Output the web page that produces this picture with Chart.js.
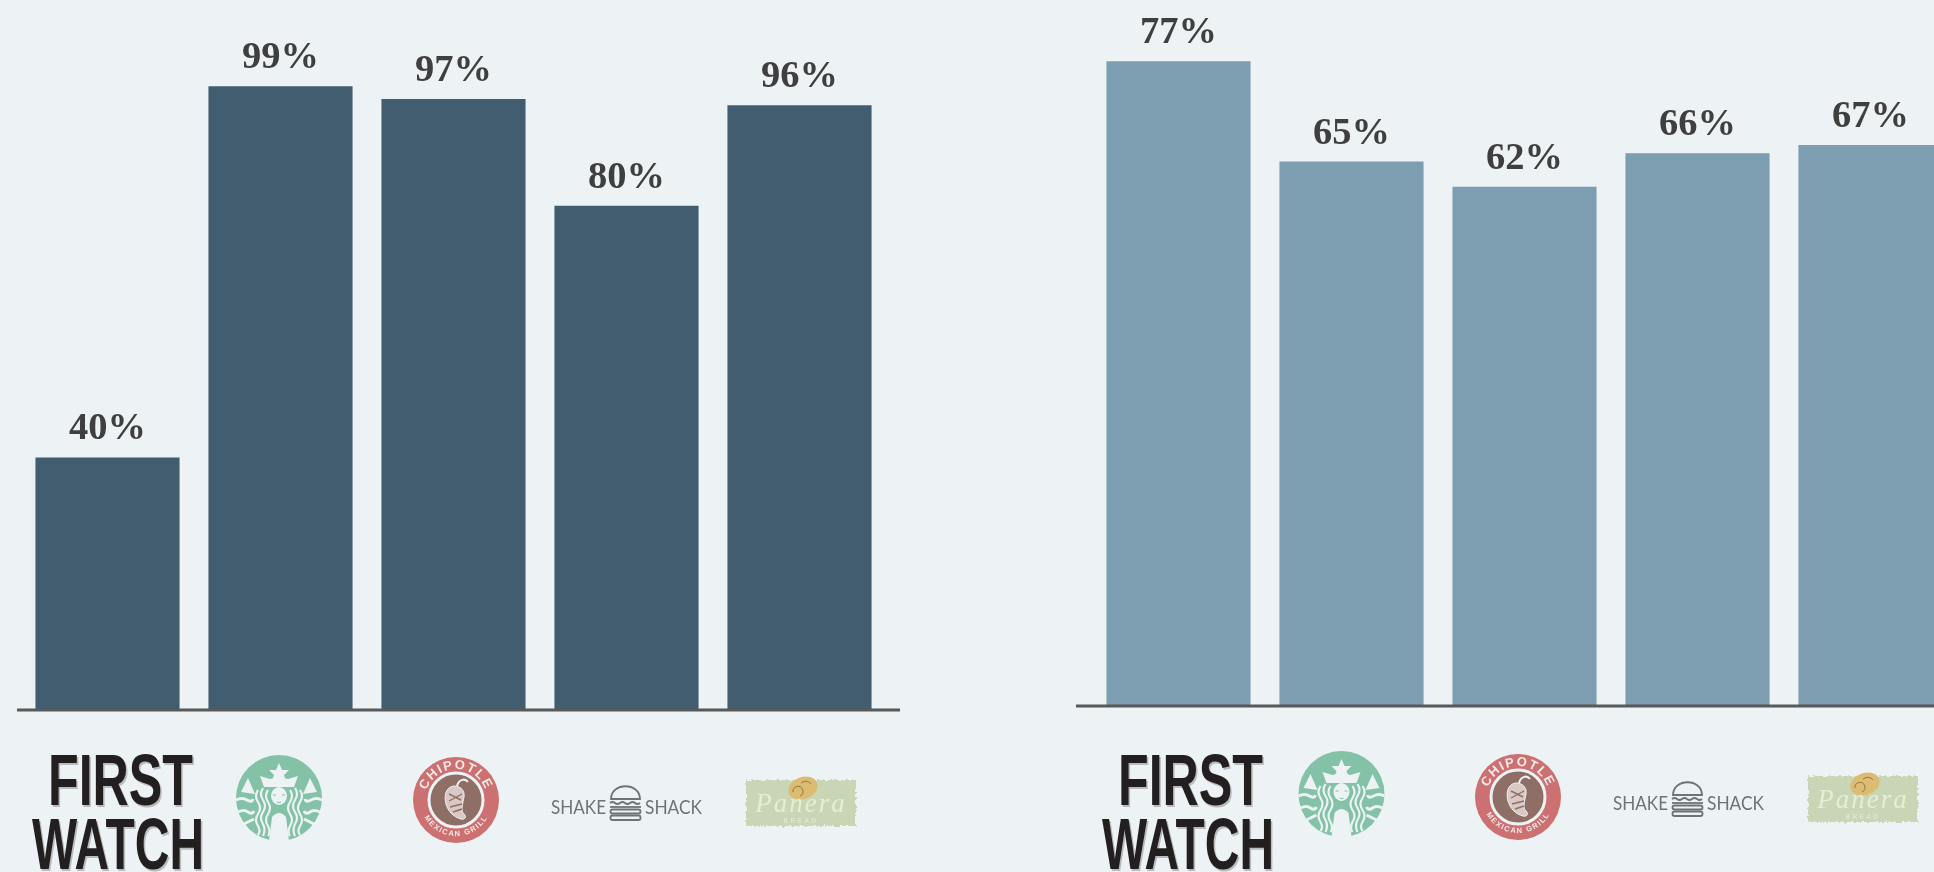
<!DOCTYPE html>
<html>
<head>
<meta charset="utf-8">
<title>Restaurant brands</title>
<script src="https://cdn.jsdelivr.net/npm/chart.js@4"></script>
<style>
    html, body { margin: 0; padding: 0; background: #edf2f5; }
    #page { position: relative; width: 1934px; height: 872px; overflow: hidden; background: #edf2f5; }
    canvas { position: absolute; top: 0; }
    #logos { position: absolute; left: 0; top: 0; filter: blur(0.7px); }
</style>
</head>
<body>
<div id="page">
    <canvas id="chartLeft" width="883" height="720" style="left:17px"></canvas>
    <canvas id="chartRight" width="881" height="720" style="left:1076px"></canvas>

    <svg id="logos" width="1934" height="872" xmlns="http://www.w3.org/2000/svg">
        <defs>
            <filter id="rough" x="-5%" y="-5%" width="110%" height="110%">
                <feTurbulence type="fractalNoise" baseFrequency="0.35" numOctaves="2" seed="4"/>
                <feDisplacementMap in="SourceGraphic" scale="5"/>
            </filter>
            <path id="chipotleTop" d="M -31 0 A 31 31 0 0 1 31 0"/>
            <path id="chipotleBottom" d="M -36 0 A 36 36 0 0 0 36 0"/>

            <g id="logoFirstWatch" font-family="'Liberation Sans Narrow','Liberation Sans',sans-serif" font-weight="700" font-size="72">
                <text x="49.5" y="806.5" textLength="145" lengthAdjust="spacingAndGlyphs" fill="#b9bcbf">FIRST</text>
                <text x="33.5" y="870.5" textLength="172" lengthAdjust="spacingAndGlyphs" fill="#b9bcbf">WATCH</text>
                <text x="48" y="805" textLength="145" lengthAdjust="spacingAndGlyphs" fill="#231f20">FIRST</text>
                <text x="32" y="869" textLength="172" lengthAdjust="spacingAndGlyphs" fill="#231f20">WATCH</text>
            </g>

            <g id="logoStarbucks" transform="translate(279 798)">
                <circle r="43" fill="#83c2a7"/>
                <!-- crown, star and side points -->
                <polygon points="0,-35 3,-28 10,-28 5,-23 7,-17 0,-20 -7,-17 -5,-23 -10,-28 -3,-28" fill="#edf2f5"/>
                <polygon points="-19,-22 -9,-19 0,-21 9,-19 19,-22 15,-11 -15,-11" fill="#edf2f5"/>
                <polygon points="-31,-20 -24,-4 -38,-6" fill="#edf2f5"/>
                <polygon points="31,-20 24,-4 38,-6" fill="#edf2f5"/>
                <!-- face and body -->
                <ellipse cx="0" cy="-2" rx="8" ry="9" fill="#edf2f5"/>
                <path d="M -6 -3 h 3 M 3 -3 h 3 M -2 4 q 2 1.5 4 0" stroke="#83c2a7" stroke-width="1" fill="none"/>
                <path d="M -10 43 L -7 19 Q 0 11 7 19 L 10 43 Z" fill="#edf2f5"/>
                <!-- hair waves -->
                <g fill="none" stroke="#edf2f5" stroke-width="2.2">
                    <path d="M -11 -8 q -4 6 0 12 q 4 6 0 12 q -4 6 0 12 q 3 6 0 10"/>
                    <path d="M -16 -10 q -4 6 0 12 q 4 6 0 12 q -4 6 0 12 q 3 6 0 12"/>
                    <path d="M -21 -8 q -4 6 0 12 q 4 6 0 12 q -4 6 0 12 q 3 5 0 9"/>
                    <path d="M 11 -8 q 4 6 0 12 q -4 6 0 12 q 4 6 0 12 q -3 6 0 10"/>
                    <path d="M 16 -10 q 4 6 0 12 q -4 6 0 12 q 4 6 0 12 q -3 6 0 12"/>
                    <path d="M 21 -8 q 4 6 0 12 q -4 6 0 12 q 4 6 0 12 q -3 5 0 9"/>
                </g>
                <g fill="none" stroke="#edf2f5" stroke-width="3">
                    <path d="M -43 2 q 6 -3 11 0 t 6 -1"/>
                    <path d="M -41 14 q 6 -3 10 0 t 6 -1"/>
                    <path d="M 43 2 q -6 -3 -11 0 t -6 -1"/>
                    <path d="M 41 14 q -6 -3 -10 0 t -6 -1"/>
                    <path d="M -35 26 l 10 -5"/>
                    <path d="M 35 26 l -10 -5"/>
                </g>
            </g>

            <g id="logoChipotle" transform="translate(456 800)">
                <circle r="43" fill="#cd7071"/>
                <circle r="27" fill="#8f6f65" stroke="#edf2f5" stroke-width="3"/>
                <text font-family="'Liberation Sans',sans-serif" font-weight="700" font-size="13" fill="#f3e9e7" letter-spacing="1.5" text-anchor="middle">
                    <textPath href="#chipotleTop" startOffset="50%">CHIPOTLE</textPath>
                </text>
                <text font-family="'Liberation Sans',sans-serif" font-weight="700" font-size="7.5" fill="#f3e9e7" letter-spacing="1.4" text-anchor="middle">
                    <textPath href="#chipotleBottom" startOffset="50%">MEXICAN GRILL</textPath>
                </text>
                <!-- pepper -->
                <path d="M -2 -14 C -11 -13 -12 -3 -10 4 C -8 11 -3 17 5 19 C 9 20 11 17 8 14 C 4 11 7 3 8 -3 C 9 -9 5 -14 -2 -14 Z" fill="#d9c8c3" stroke="#edf2f5" stroke-width="1"/>
                <path d="M 1 -14 C 3 -21 9 -22 12 -18" fill="none" stroke="#edf2f5" stroke-width="2"/>
                <path d="M -7 -6 L 5 0 M -7 1 L 6 -6 M -6 7 L 6 4 M -3 12 L 6 9" stroke="#8f6f65" stroke-width="1.4" fill="none"/>
            </g>

            <g id="logoShake">
                <text x="551" y="814" textLength="55" lengthAdjust="spacingAndGlyphs" font-family="Lato,sans-serif" font-size="19.5" fill="#6e7377">SHAKE</text>
                <text x="645" y="814" textLength="57" lengthAdjust="spacingAndGlyphs" font-family="Lato,sans-serif" font-size="19.5" fill="#6e7377">SHACK</text>
                <g fill="none" stroke="#6e7377" stroke-width="1.8">
                    <path d="M 611 799 C 611 782 640 782 640 799 Z"/>
                    <path d="M 610 803 q 2.5 -2 5 0 t 5 0 t 5 0 t 5 0 t 5 0 t 5 0"/>
                    <path d="M 610 807 L 641 807"/>
                    <rect x="610.5" y="809.5" width="30" height="4" rx="2"/>
                    <rect x="610.5" y="815.5" width="30" height="4.5" rx="2"/>
                </g>
            </g>

            <g id="logoPanera">
                <rect x="746" y="780" width="110" height="46" fill="#c9d6b6" filter="url(#rough)"/>
                <ellipse cx="803" cy="788" rx="15" ry="11" fill="#dcbc72" transform="rotate(-20 803 788)"/>
                <g fill="none" stroke="#8f7b3c" stroke-width="1">
                    <path d="M 793 792 a 5 5 0 1 1 7 4"/>
                    <path d="M 801 783 q 6 -4 10 1"/>
                </g>
                <text x="801" y="812" text-anchor="middle" font-family="'Liberation Serif',serif" font-style="italic" font-size="27" letter-spacing="2" fill="#e6edd6">Panera</text>
                <text x="801" y="823" text-anchor="middle" font-family="'Liberation Sans',sans-serif" font-size="6.5" letter-spacing="2.5" fill="#e6edd6">BREAD</text>
            </g>
        </defs>

        <!-- logo row under the left chart -->
        <use href="#logoFirstWatch"/>
        <use href="#logoStarbucks"/>
        <use href="#logoChipotle"/>
        <use href="#logoShake"/>
        <use href="#logoPanera"/>

        <!-- logo row under the right chart -->
        <use href="#logoFirstWatch" x="1070"/>
        <use href="#logoStarbucks" x="1062.5" y="-4"/>
        <use href="#logoChipotle" x="1062" y="-3"/>
        <use href="#logoShake" x="1062" y="-4"/>
        <use href="#logoPanera" x="1062" y="-4"/>
    </svg>
</div>

<script>
// 数据
const brands = ['First Watch', 'Starbucks', 'Chipotle', 'Shake Shack', 'Panera Bread'];
const leftValues = [40, 99, 97, 80, 96];
const rightValues = [77, 65, 62, 66, 67];

const valueFont = 'bold 38.5px "Liberation Serif", serif';
const valueColor = '#3f3f3f';
const axisColor = '#595959';

// 柱顶的百分比文字和底部横线
const barDecorations = {
    id: 'barDecorations',
    afterDatasetsDraw(chart) {
        const ctx = chart.ctx;
        const dataset = chart.data.datasets[0];

        ctx.save();
        ctx.font = valueFont;
        ctx.fillStyle = valueColor;
        ctx.textAlign = 'center';
        ctx.textBaseline = 'alphabetic';
        chart.getDatasetMeta(0).data.forEach((bar, i) => {
            ctx.fillText(dataset.data[i] + '%', bar.x, bar.y - 18);
        });

        const zeroY = chart.scales.y.getPixelForValue(0);
        ctx.strokeStyle = axisColor;
        ctx.lineWidth = 3;
        ctx.beginPath();
        ctx.moveTo(0, zeroY + 1);
        ctx.lineTo(chart.width, zeroY + 1);
        ctx.stroke();
        ctx.restore();
    }
};

function createBarChart(canvasId, values, color, yMax, padding) {
    return new Chart(document.getElementById(canvasId), {
        type: 'bar',
        data: {
            labels: brands,
            datasets: [{
                data: values,
                backgroundColor: color,
                categoryPercentage: 1,
                barPercentage: 0.833
            }]
        },
        options: {
            responsive: false,
            animation: false,
            layout: { padding },
            plugins: {
                legend: { display: false },
                tooltip: { enabled: false }
            },
            scales: {
                x: { display: false },
                y: { display: false, min: 0, max: yMax }
            }
        },
        plugins: [barDecorations]
    });
}

// 两个图的比例尺不同，左图每 1% 约 6.29px，右图约 8.36px
createBarChart('chartLeft', leftValues, '#415d6f', 112.72, { left: 4, right: 14, top: 0, bottom: 11 });
createBarChart('chartRight', rightValues, '#7d9db0', 84.33, { left: 16, right: 0, top: 0, bottom: 15 });
</script>
</body>
</html>
